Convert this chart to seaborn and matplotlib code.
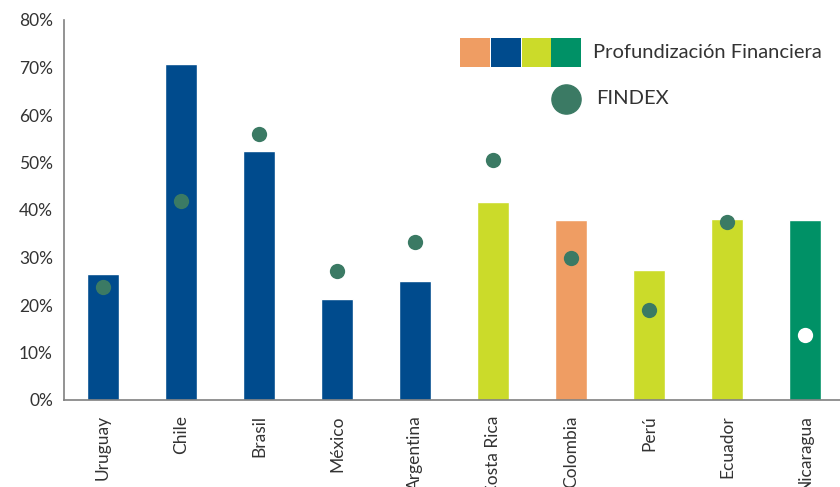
import numpy as np
import pandas as pd
import matplotlib
matplotlib.use("Agg")
import matplotlib.pyplot as plt
import seaborn as sns
from matplotlib.patches import Rectangle
from matplotlib.lines import Line2D
from matplotlib.ticker import FuncFormatter, FixedLocator

# data
countries = ["Uruguay", "Chile", "Brasil", "México", "Argentina",
             "Costa Rica", "Colombia", "Perú", "Ecuador", "Nicaragua"]
profundizacion = [26.5, 70.7, 52.4, 21.3, 25.1, 41.7, 37.9, 27.4, 38.1, 37.9]
findex = [23.8, 42.0, 56.1, 27.2, 33.3, 50.5, 29.8, 19.0, 37.4, 13.7]
bar_colors = ["#004b8d", "#004b8d", "#004b8d", "#004b8d", "#004b8d",
              "#cbdb2a", "#ef9d63", "#cbdb2a", "#cbdb2a", "#009166"]
dot_colors = ["#3b7a64"] * 9 + ["#ffffff"]
legend_colors = ["#ef9d63", "#004b8d", "#cbdb2a", "#009166"]

df = pd.DataFrame({"pais": countries, "prof": profundizacion, "findex": findex})

sns.set_style("white")
plt.rcParams["font.family"] = ["Lato", "DejaVu Sans"]
text_color = "#333333"
axis_color = "#808080"

fig = plt.figure(figsize=(8.4, 4.87), dpi=100)
ax = fig.add_axes([64 / 840, 87 / 487, 1.0 - 64 / 840, 380 / 487])

sns.barplot(data=df, x="pais", y="prof", hue="pais", palette=bar_colors,
            width=0.41, legend=False, ax=ax, saturation=1)
sns.stripplot(data=df, x="pais", y="findex", hue="pais", palette=dot_colors,
              jitter=False, size=11, linewidth=0, legend=False, ax=ax, zorder=5)

ax.set_xlim(-0.5, 9.45)
ax.set_ylim(0, 80)
ax.set_yticks(np.arange(0, 81, 10))
ax.yaxis.set_major_formatter(FuncFormatter(lambda v, p: f"{v:.0f}%"))
ax.set_xlabel("")
ax.set_ylabel("")

# labels at centres, tick marks at category edges
ax.xaxis.set_minor_locator(FixedLocator(np.arange(-0.5, 10, 1)))
ax.tick_params(axis="x", which="major", length=0, pad=11, labelsize=12.5,
               labelcolor=text_color, rotation=90)
ax.tick_params(axis="x", which="minor", length=5, width=1, color=axis_color)
for lab in ax.get_xticklabels():
    lab.set_verticalalignment("top")
ax.tick_params(axis="y", length=5, width=1, color=axis_color,
               labelsize=12.5, labelcolor=text_color, pad=3)

sns.despine(ax=ax)
for s in ["left", "bottom"]:
    ax.spines[s].set_color(axis_color)
    ax.spines[s].set_linewidth(1.2)

# legend drawn by hand
W, H = 840, 487
lx = [460, 491, 522, 551]
for x0, c in zip(lx, legend_colors):
    fig.add_artist(Rectangle((x0 / W, 1 - 67 / H), 29.5 / W, 29 / H,
                             transform=fig.transFigure, color=c, lw=0))
fig.text(593 / W, 1 - 52 / H, "Profundización Financiera", fontsize=14.5,
         color=text_color, va="center", ha="left")
fig.add_artist(Line2D([566 / W], [1 - 99 / H], marker="o", markersize=21,
                      color="#3b7a64", lw=0, transform=fig.transFigure))
fig.text(596 / W, 1 - 99 / H, "FINDEX", fontsize=14.5,
         color=text_color, va="center", ha="left")

fig.savefig("out.png", dpi=100)
